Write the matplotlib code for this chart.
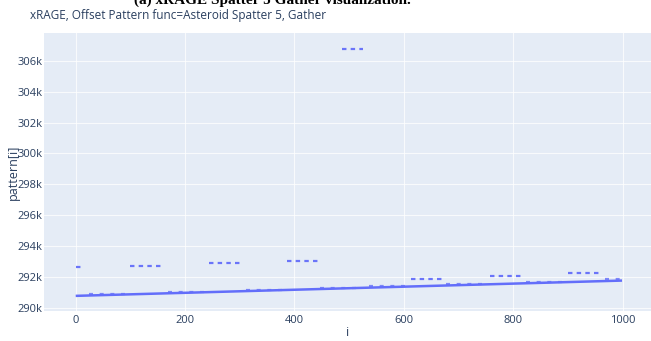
import matplotlib
matplotlib.use("Agg")
import matplotlib.pyplot as plt
from matplotlib.ticker import FuncFormatter, MultipleLocator

# main trend of pattern[i] (dense points, reads as a line)
line_i = [0, 999]
line_val = [290780, 291770]

# short runs of points sitting just above the main line: (start i, end i)
near_start = [25, 168, 311, 447, 537, 678, 824, 968]
near_end = [92, 237, 380, 520, 605, 750, 893, 999]
near_val = [290910, 291050, 291190, 291310, 291400, 291540, 291680, 291840]

# offset runs above the line
high_start = [0, 100, 244, 487, 387, 613, 757, 901]
high_end = [13, 157, 301, 526, 444, 669, 814, 958]
high_val = [292630, 292740, 292890, 306760, 293040, 291900, 292070, 292240]

title = "(a) xRAGE Spatter 5 Gather visualization."
subtitle = "xRAGE, Offset Pattern func=Asteroid Spatter 5, Gather"
xlabel = "i"
ylabel = "pattern[i]"

blue = "#636efa"
txt = "#2a3f5f"

fig = plt.figure(figsize=(6.51, 3.41), dpi=100)
ax = fig.add_axes([44/651, 30/341, 1 - 44/651, 278/341])
ax.set_facecolor("#e5ecf6")

ax.plot(line_i, line_val, color=blue, lw=1.8, solid_capstyle="butt", zorder=3)
# dash lengths are given in multiples of the line width
for s, e, v in zip(near_start, near_end, near_val):
    ax.plot([s, e], [v, v], color=blue, lw=1.6, alpha=0.8,
            linestyle=(0, (1.8, 3.0)), zorder=3)
for s, e, v in zip(high_start, high_end, high_val):
    ax.plot([s, e], [v, v], color=blue, lw=1.6, alpha=0.95,
            linestyle=(0, (2.0, 1.9)), zorder=3)

ax.set_xlim(-58, 1052)
ax.set_ylim(289800, 307800)
ax.xaxis.set_major_locator(MultipleLocator(200))
ax.yaxis.set_major_locator(MultipleLocator(2000))
ax.yaxis.set_major_formatter(FuncFormatter(lambda v, p: f"{v/1000:.0f}k"))
ax.grid(True, color="white", lw=0.8, alpha=0.75)
ax.set_axisbelow(True)
for sp in ax.spines.values():
    sp.set_visible(False)
ax.tick_params(axis="y", pad=1)
ax.tick_params(axis="x", pad=3)
ax.tick_params(length=0, labelsize=8, labelcolor=txt)
for lab in ax.get_xticklabels() + ax.get_yticklabels():
    lab.set_fontfamily("Open Sans")

ax.set_xlabel(xlabel, fontsize=9, color=txt, family="Open Sans")
ax.set_ylabel(ylabel, fontsize=9, color=txt, family="Open Sans")
ax.xaxis.set_label_coords(0.5, -(332 - 311) / 278, transform=ax.transAxes)
ax.yaxis.set_label_coords(-(44 - 13) / 607, 0.5, transform=ax.transAxes)
ax.xaxis.label.set_va("center")
ax.yaxis.label.set_va("center")

fig.text(272/651, 1 - 4/341, title, ha="center", va="baseline",
         fontsize=11, fontweight="bold", family="Liberation Serif", color="black")
fig.text(30/651, 1 - 19/341, subtitle, ha="left", va="baseline",
         fontsize=8.5, family="Open Sans", color=txt)

fig.savefig("out.png", dpi=100)
